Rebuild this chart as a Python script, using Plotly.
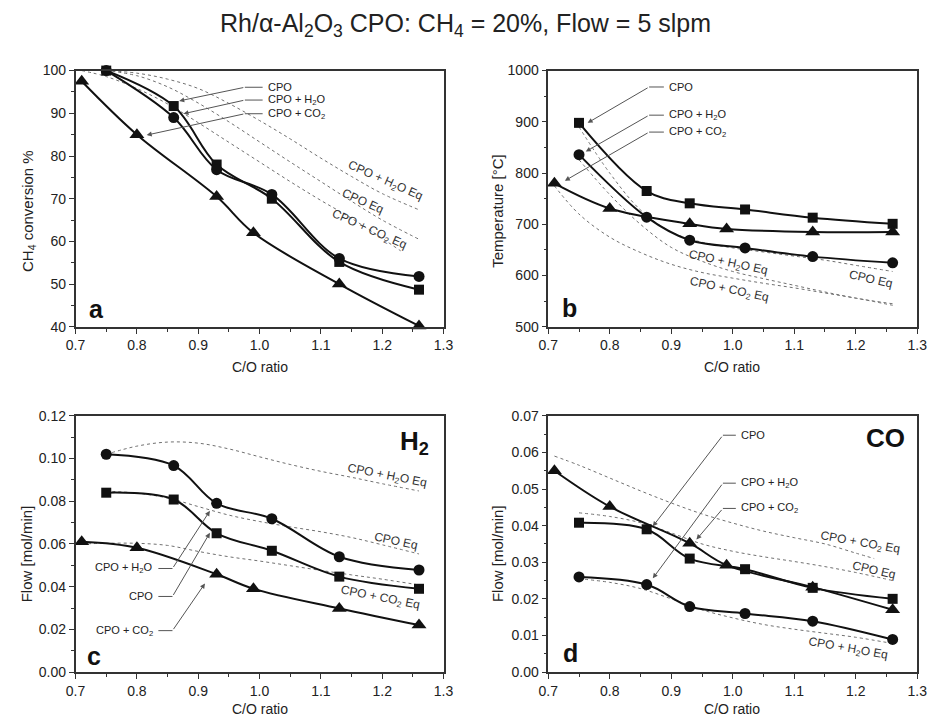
import plotly.graph_objects as go

# ---------------- data ----------------
co_ratio = [0.75, 0.86, 0.93, 1.02, 1.13, 1.26]          # CPO and CPO+H2O runs
co_ratio_co2 = [0.71, 0.80, 0.93, 0.99, 1.13, 1.26]      # CPO+CO2 runs

# a: CH4 conversion %
conv_cpo = [100, 91.7, 78.0, 70.0, 55.2, 48.7]
conv_h2o = [100, 89.0, 76.8, 71.0, 56.0, 51.8]
conv_co2 = [97.5, 85.0, 70.5, 62.0, 50.0, 40.2]
# b: temperature
temp_cpo = [898, 765, 741, 729, 713, 701]
temp_h2o = [836, 714, 669, 654, 637, 625]
temp_co2 = [780, 731, 701, 691, 685, 685]
# c: H2 flow
h2_cpo = [0.0840, 0.0808, 0.0650, 0.0568, 0.0447, 0.0390]
h2_h2o = [0.1020, 0.0967, 0.0790, 0.0718, 0.0540, 0.0478]
h2_co2 = [0.0610, 0.0582, 0.0458, 0.0390, 0.0298, 0.0220]
# d: CO flow
co_cpo = [0.0408, 0.0390, 0.0310, 0.0281, 0.0230, 0.0200]
co_h2o = [0.0260, 0.0239, 0.0179, 0.0160, 0.0139, 0.0089]
co_co2 = [0.0550, 0.0452, 0.0352, 0.0292, 0.0232, 0.0170]

# equilibrium curves
eq_x = [0.75, 0.80, 0.85, 0.90, 0.95, 1.00, 1.05, 1.10, 1.15, 1.20, 1.26]
eq_x_co2_a = [0.71, 0.75, 0.80, 0.85, 0.90, 0.95, 1.00, 1.05, 1.10, 1.15, 1.23]
eq_x_co2 = [0.71, 0.75, 0.80, 0.85, 0.90, 0.95, 1.00, 1.05, 1.10, 1.15, 1.20, 1.26]
eq_x_co2_d = [0.71, 0.75, 0.80, 0.85, 0.90, 0.95, 1.00, 1.05, 1.10, 1.15, 1.20, 1.23]

conv_eq_h2o = [100, 99.4, 98.0, 95.8, 92.3, 88.3, 84.0, 79.5, 75.2, 71.2, 67.4]
conv_eq_cpo = [100, 98.8, 96.2, 92.4, 88.0, 83.3, 78.6, 74.0, 69.4, 65.0, 60.5]
conv_eq_co2 = [100, 98.6, 95.8, 92.2, 87.8, 83.2, 78.6, 74.0, 69.6, 65.4, 57.8]

temp_eq_cpo = [890, 800, 728, 685, 665, 654, 646, 638, 630, 620, 608]
temp_eq_h2o = [826, 758, 700, 655, 628, 608, 594, 581, 568, 556, 545]
temp_eq_co2 = [775, 720, 675, 645, 622, 606, 595, 585, 576, 566, 556, 542]

h2_eq_h2o = [0.1020, 0.1058, 0.1077, 0.1072, 0.1045, 0.1008, 0.0972, 0.0940, 0.0912, 0.0882, 0.0848]
h2_eq_cpo = [0.0847, 0.0838, 0.0815, 0.0775, 0.0735, 0.0705, 0.0680, 0.0657, 0.0630, 0.0596, 0.0553]
h2_eq_co2 = [0.0600, 0.0603, 0.0603, 0.0593, 0.0565, 0.0540, 0.0520, 0.0498, 0.0476, 0.0455, 0.0435, 0.0408]

co_eq_co2 = [0.0590, 0.0565, 0.0530, 0.0495, 0.0462, 0.0432, 0.0407, 0.0385, 0.0367, 0.0350, 0.0325, 0.0310]
co_eq_cpo = [0.0435, 0.0425, 0.0408, 0.0380, 0.0350, 0.0330, 0.0315, 0.0302, 0.0288, 0.0272, 0.0250]
co_eq_h2o = [0.0255, 0.0245, 0.0228, 0.0200, 0.0170, 0.0148, 0.0130, 0.0117, 0.0106, 0.0095, 0.0078]

x_ticks = [0.7, 0.8, 0.9, 1.0, 1.1, 1.2, 1.3]

# ---------------- styling ----------------
FONT = "Liberation Sans, Arial, sans-serif"
BLACK = "#111111"
AXC = "#333333"
EQC = "#707070"
ARC = "#555555"

fig = go.Figure()

panels = [
    ("x", "y", [(co_ratio, conv_cpo, "square"), (co_ratio, conv_h2o, "circle"), (co_ratio_co2, conv_co2, "triangle-up")],
     [(eq_x, conv_eq_h2o), (eq_x, conv_eq_cpo), (eq_x_co2_a, conv_eq_co2)]),
    ("x2", "y2", [(co_ratio, temp_cpo, "square"), (co_ratio, temp_h2o, "circle"), (co_ratio_co2, temp_co2, "triangle-up")],
     [(eq_x, temp_eq_cpo), (eq_x, temp_eq_h2o), (eq_x_co2, temp_eq_co2)]),
    ("x3", "y3", [(co_ratio, h2_cpo, "square"), (co_ratio, h2_h2o, "circle"), (co_ratio_co2, h2_co2, "triangle-up")],
     [(eq_x, h2_eq_h2o), (eq_x, h2_eq_cpo), (eq_x_co2, h2_eq_co2)]),
    ("x4", "y4", [(co_ratio, co_cpo, "square"), (co_ratio, co_h2o, "circle"), (co_ratio_co2, co_co2, "triangle-up")],
     [(eq_x_co2_d, co_eq_co2), (eq_x, co_eq_cpo), (eq_x, co_eq_h2o)]),
]

MSIZE = {"square": 10, "circle": 11, "triangle-up": 13}

for xa, ya, meas, eqs in panels:
    for ex, ey in eqs:
        fig.add_trace(go.Scatter(x=ex, y=ey, xaxis=xa, yaxis=ya, mode="lines",
                                 line=dict(color=EQC, width=1, dash="dot", shape="spline", smoothing=1),
                                 showlegend=False, hoverinfo="skip"))
    for mx, my, sym in meas:
        fig.add_trace(go.Scatter(x=mx, y=my, xaxis=xa, yaxis=ya, mode="lines+markers",
                                 line=dict(color=BLACK, width=2, shape="spline", smoothing=1),
                                 marker=dict(symbol=sym, size=MSIZE[sym], color=BLACK),
                                 cliponaxis=False, showlegend=False))


def xaxis(domain, anchor):
    return dict(domain=domain, anchor=anchor, range=[0.7, 1.3], tickvals=x_ticks,
                ticktext=[f"{v:.1f}" for v in x_ticks],
                ticks="outside", ticklen=5, tickwidth=1, tickcolor=AXC,
                minor=dict(tickvals=[0.75, 0.85, 0.95, 1.05, 1.15, 1.25], ticks="outside", ticklen=3, tickcolor=AXC),
                showline=True, linecolor=AXC, linewidth=1.5, mirror=True,
                showgrid=False, zeroline=False, tickfont=dict(size=14, color="#222", family=FONT))


def yaxis(domain, anchor, rng, dtick, mdtick, fmt):
    return dict(domain=domain, anchor=anchor, range=rng, dtick=dtick, tick0=rng[0], tickformat=fmt,
                ticks="outside", ticklen=5, tickwidth=1, tickcolor=AXC,
                minor=dict(dtick=mdtick, tick0=rng[0], ticks="outside", ticklen=3, tickcolor=AXC),
                showline=True, linecolor=AXC, linewidth=1.5, mirror=True,
                showgrid=False, zeroline=False, tickfont=dict(size=14, color="#222", family=FONT))


W, H = 938, 727
xa_l = [67 / W, 443 / W]
xa_r = [550 / W, 927 / W]
ya_t = [1 - 326 / H, 1 - 64 / H]
ya_b = [1 - 679 / H, 1 - 417 / H]

fig.update_layout(
    width=W, height=H, margin=dict(l=0, r=0, t=0, b=0),
    paper_bgcolor="white", plot_bgcolor="white",
    font=dict(family=FONT, color="#222"),
    xaxis=xaxis(xa_l, "y"), yaxis=yaxis(ya_t, "x", [40, 100], 10, 5, "d"),
    xaxis2=xaxis(xa_r, "y2"), yaxis2=yaxis(ya_t, "x2", [500, 1000], 100, 50, "d"),
    xaxis3=xaxis(xa_l, "y3"), yaxis3=yaxis(ya_b, "x3", [0, 0.12], 0.02, 0.01, ".2f"),
    xaxis4=xaxis(xa_r, "y4"), yaxis4=yaxis(ya_b, "x4", [0, 0.07], 0.01, 0.005, ".2f"),
    showlegend=False,
)

ann = []
shapes = []

# title
ann.append(dict(text="Rh/α-Al<sub>2</sub>O<sub>3</sub> CPO: CH<sub>4</sub> = 20%, Flow = 5 slpm",
                xref="paper", yref="paper", x=465 / W, y=1 - 17 / H, xanchor="center", yanchor="middle",
                showarrow=False, font=dict(size=25, color="#222")))

# axis titles
for xc, yc in [(255, 367), (738, 367), (255, 717), (738, 717)]:
    ann.append(dict(text="C/O ratio", xref="paper", yref="paper", x=xc / W, y=1 - yc / H,
                    xanchor="center", yanchor="middle", showarrow=False, font=dict(size=14, color="#222")))
for txt, xc, yc in [("CH<sub>4</sub> conversion %", 19, 208), ("Temperature [°C]", 498, 207),
                    ("Flow [mol/min]", 17, 558), ("Flow [mol/min]", 498, 558)]:
    ann.append(dict(text=txt, xref="paper", yref="paper", x=xc / W, y=1 - yc / H, textangle=-90,
                    xanchor="center", yanchor="middle", showarrow=False, font=dict(size=15, color="#222")))

# panel letters and species
for i, (lt, xd, yd) in enumerate([("a", 0.056, 0.07), ("b", 0.058, 0.074), ("c", 0.051, 0.061), ("d", 0.06, 0.073)]):
    sfx = "" if i == 0 else str(i + 1)
    ann.append(dict(text=f"<b>{lt}</b>", xref=f"x{sfx} domain", yref=f"y{sfx} domain", x=xd, y=yd,
                    xanchor="center", yanchor="middle", showarrow=False, font=dict(size=25, color="#111")))
ann.append(dict(text="<b>H<sub>2</sub></b>", xref="x3 domain", yref="y3 domain", x=0.92, y=0.895,
                xanchor="center", yanchor="middle", showarrow=False, font=dict(size=26, color="#111")))
ann.append(dict(text="<b>CO</b>", xref="x4 domain", yref="y4 domain", x=0.915, y=0.912,
                xanchor="center", yanchor="middle", showarrow=False, font=dict(size=26, color="#111")))

# equilibrium labels: (axis suffix, text, x, y, angle)
eq_labels = [
    ("", "CPO + H<sub>2</sub>O Eq", 1.204, 74.1, 24),
    ("", "CPO Eq", 1.168, 69.5, 24),
    ("", "CPO + CO<sub>2</sub> Eq", 1.179, 62.7, 24),
    ("2", "CPO + H<sub>2</sub>O Eq", 0.992, 625, 12),
    ("2", "CPO Eq", 1.225, 594, 13),
    ("2", "CPO + CO<sub>2</sub> Eq", 0.994, 572, 12),
    ("3", "CPO + H<sub>2</sub>O Eq", 1.207, 0.0919, 11),
    ("3", "CPO Eq", 1.223, 0.0614, 12),
    ("3", "CPO + CO<sub>2</sub> Eq", 1.196, 0.0347, 11),
    ("4", "CPO + CO<sub>2</sub> Eq", 1.207, 0.0353, 10),
    ("4", "CPO Eq", 1.23, 0.0278, 13),
    ("4", "CPO + H<sub>2</sub>O Eq", 1.188, 0.0064, 10),
]
for sfx, txt, x, y, ang in eq_labels:
    ann.append(dict(text=txt, xref=f"x{sfx}", yref=f"y{sfx}", x=x, y=y, textangle=ang,
                    xanchor="center", yanchor="middle", showarrow=False, font=dict(size=12, color="#333")))

# arrow callouts: (axis suffix, text, label x, label y, seg x0, seg x1, target x, target y, side)
callouts = [
    ("", "CPO", 1.010, 96.1, 0.976, 1.005, 0.869, 92.9, "left"),
    ("", "CPO + H<sub>2</sub>O", 1.010, 93.1, 0.976, 1.005, 0.876, 89.9, "left"),
    ("", "CPO + CO<sub>2</sub>", 1.010, 89.9, 0.976, 1.005, 0.816, 84.9, "left"),
    ("2", "CPO", 0.893, 968, 0.864, 0.888, 0.764, 898, "left"),
    ("2", "CPO + H<sub>2</sub>O", 0.893, 913, 0.864, 0.888, 0.761, 842, "left"),
    ("2", "CPO + CO<sub>2</sub>", 0.893, 880, 0.864, 0.888, 0.727, 785, "left"),
    ("3", "CPO + H<sub>2</sub>O", 0.830, 0.0485, 0.858, 0.835, 0.919, 0.0755, "right"),
    ("3", "CPO", 0.830, 0.0354, 0.858, 0.835, 0.919, 0.0652, "right"),
    ("3", "CPO + CO<sub>2</sub>", 0.830, 0.0194, 0.858, 0.835, 0.911, 0.0415, "right"),
    ("4", "CPO", 1.010, 0.0647, 0.984, 1.005, 0.870, 0.0398, "left"),
    ("4", "CPO + H<sub>2</sub>O", 1.010, 0.0516, 0.984, 1.005, 0.870, 0.0256, "left"),
    ("4", "CPO + CO<sub>2</sub>", 1.010, 0.0447, 0.984, 1.005, 0.941, 0.0362, "left"),
]
for sfx, txt, lx, ly, s0, s1, tx, ty, side in callouts:
    ann.append(dict(text=txt, xref=f"x{sfx}", yref=f"y{sfx}", x=lx, y=ly,
                    xanchor=side, yanchor="middle", showarrow=False, font=dict(size=11, color="#222")))
    shapes.append(dict(type="line", xref=f"x{sfx}", yref=f"y{sfx}", x0=s0, x1=s1, y0=ly, y1=ly,
                       line=dict(color=ARC, width=1)))
    ann.append(dict(text="", xref=f"x{sfx}", yref=f"y{sfx}", x=tx, y=ty,
                    axref=f"x{sfx}", ayref=f"y{sfx}", ax=s0, ay=ly, showarrow=True,
                    arrowhead=2, arrowsize=1, arrowwidth=1, arrowcolor=ARC, standoff=0, startstandoff=0))

fig.update_layout(annotations=ann, shapes=shapes)

fig.write_html("out.html", config={"displayModeBar": False},
               post_script="document.body.style.margin='0';")
